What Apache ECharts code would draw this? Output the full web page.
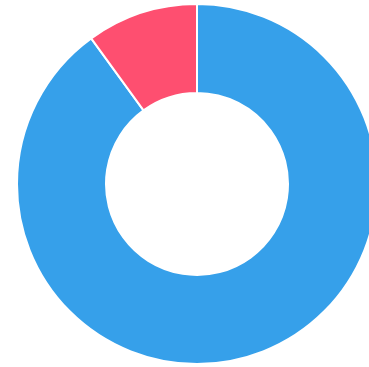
<!DOCTYPE html>
<html>
<head>
<meta charset="utf-8">
<script src="https://cdn.jsdelivr.net/npm/echarts@6/dist/echarts.min.js"></script>
<style>
  html, body { margin: 0; padding: 0; background: #fff; }
  #chart { width: 369px; height: 367px; }
</style>
</head>
<body>
<div id="chart"></div>
<script>
// Donut segments, drawn clockwise from twelve o'clock
const categories = ['Blue', 'Red'];
const values = [90, 10];
const colors = ['#36a0ea', '#fe4f70'];

const chart = echarts.init(document.getElementById('chart'), null, { renderer: 'canvas' });
chart.setOption({
  animation: false,
  series: [{
    type: 'pie',
    center: [197, 184],
    radius: [91, 180],
    startAngle: 90,
    clockwise: true,
    label: { show: false },
    labelLine: { show: false },
    emphasis: { disabled: true },
    itemStyle: { borderColor: '#ffffff', borderWidth: 2 },
    data: categories.map((name, i) => ({
      name: name,
      value: values[i],
      itemStyle: { color: colors[i] }
    }))
  }]
});
</script>
</body>
</html>
